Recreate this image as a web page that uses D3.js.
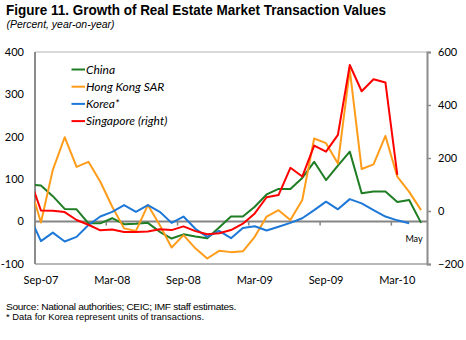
<!DOCTYPE html>
<html>
<head>
<meta charset="utf-8">
<script src="https://cdn.jsdelivr.net/npm/d3@7"></script>
<style>
  body { margin: 0; background: #fff; }
  svg text { fill: #000; }
</style>
</head>
<body>
<div id="chart"></div>
<script>
// months, Aug-07 sits just left of the axis and is clipped
const months = ["Aug-07", "Sep-07", "Oct-07", "Nov-07", "Dec-07",
  "Jan-08", "Feb-08", "Mar-08", "Apr-08", "May-08", "Jun-08", "Jul-08", "Aug-08",
  "Sep-08", "Oct-08", "Nov-08", "Dec-08", "Jan-09", "Feb-09", "Mar-09", "Apr-09",
  "May-09", "Jun-09", "Jul-09", "Aug-09", "Sep-09", "Oct-09", "Nov-09", "Dec-09",
  "Jan-10", "Feb-10", "Mar-10", "Apr-10", "May-10"]
const tickMonths = ["Sep-07", "Mar-08", "Sep-08", "Mar-09", "Sep-09", "Mar-10"]

// left axis (percent)
const china = [88, 85, 60, 30, 29, -4, -4, 8, -6, -5, -3, -24, -40, -30, -35, -39,
  -14, 12, 12, 35, 64, 77, 77, 103, 141, 98, 132, 165, 67, 71, 71, 46, 51, -3]
const hongKong = [92, -2, 122, 199, 129, 141, 94, 35, -16, -22, 39, -8, -61, -32, -63, -87,
  -69, -72, -70, -36, 12, 27, 4, 51, 196, 185, 137, 358, 124, 135, 202, 106, 70, 27]
const korea = [15, -46, -26, -47, -36, -8, 12, 23, 39, 23, 39, 23, -3, 12, -17, -36,
  -22, -39, -15, -11, -21, -12, -3, 8, 27, 47, 29, 53, 43, 27, 12, 3, -4, null]
// right axis
const singapore = [130, 2, 1, -4, -34, -52, -73, -70, -79, -79, -77, -69, -72, -58, -76, -88,
  -84, -72, -48, -9, 52, 60, 163, 130, 247, 224, 287, 551, 452, 497, 485, 136, null, null]

const leftTicks = [400, 300, 200, 100, 0, -100]
const rightTicks = [600, 400, 200, 0, -200]

const W = 466, H = 340
const plot = { left: 35, right: 427, top: 52, bottom: 264 }
const step = (plot.right - plot.left) / (months.length - 1)

const svg = d3.select("#chart").append("svg")
  .attr("width", W)
  .attr("height", H)

// title block
svg.append("text")
  .attr("x", 6).attr("y", 15)
  .attr("textLength", 380).attr("lengthAdjust", "spacingAndGlyphs")
  .style("font", "bold 15px 'Liberation Sans', Arial, sans-serif")
  .text("Figure 11. Growth of Real Estate Market Transaction Values")
svg.append("text")
  .attr("x", 6.5).attr("y", 28)
  .attr("textLength", 108).attr("lengthAdjust", "spacingAndGlyphs")
  .style("font", "italic 10.5px 'Liberation Sans', Arial, sans-serif")
  .text("(Percent, year-on-year)")

// scales
const x = d3.scaleBand()
  .domain(months)
  .range([plot.left - step, plot.right])
const cx = m => x(m) + x.bandwidth() / 2
const yL = d3.scaleLinear().domain([-100, 400]).range([plot.bottom, plot.top])
const yR = d3.scaleLinear().domain([-200, 600]).range([plot.bottom, plot.top])

const tickFont = "11px Lato, 'Open Sans', sans-serif"

// frame
svg.append("line")
  .attr("x1", plot.left).attr("x2", plot.right)
  .attr("y1", plot.top).attr("y2", plot.top)
  .attr("stroke", "#b4b4b4").attr("stroke-width", 1)
svg.append("line")
  .attr("x1", plot.left).attr("x2", plot.right)
  .attr("y1", plot.bottom).attr("y2", plot.bottom)
  .attr("stroke", "#a0a0a0").attr("stroke-width", 1.5)
svg.append("line")
  .attr("x1", plot.left).attr("x2", plot.left)
  .attr("y1", plot.top).attr("y2", plot.bottom)
  .attr("stroke", "#8c8c8c").attr("stroke-width", 2)

// right axis with outer ticks
const rAxis = svg.append("g")
  .attr("transform", "translate(" + plot.right + ",0)")
  .call(d3.axisRight(yR).tickValues(rightTicks).tickSize(4).tickPadding(7))
rAxis.select(".domain").attr("stroke", "#8c8c8c").attr("stroke-width", 2)
rAxis.selectAll(".tick line").attr("stroke", "#8c8c8c").attr("stroke-width", 1.5)
rAxis.selectAll("text").style("font", tickFont).attr("fill", "#000")

// left labels, no ticks
svg.append("g").selectAll("text")
  .data(leftTicks)
  .join("text")
  .attr("x", 24)
  .attr("y", d => yL(d))
  .attr("dy", "0.35em")
  .attr("text-anchor", "end")
  .style("font", tickFont)
  .text(d => d)

// zero line with half-year ticks between categories
svg.append("line")
  .attr("x1", plot.left).attr("x2", plot.right)
  .attr("y1", yL(0)).attr("y2", yL(0))
  .attr("stroke", "#858585").attr("stroke-width", 2)
svg.append("g").selectAll("line")
  .data(tickMonths.slice(1))
  .join("line")
  .attr("x1", d => x(d)).attr("x2", d => x(d))
  .attr("y1", yL(0)).attr("y2", yL(0) + 4)
  .attr("stroke", "#858585").attr("stroke-width", 1.5)

// month labels under the frame
svg.append("g").selectAll("text")
  .data(tickMonths)
  .join("text")
  .attr("x", d => cx(d))
  .attr("y", 284)
  .attr("text-anchor", "middle")
  .style("font", tickFont)
  .text(d => d)

svg.append("text")
  .attr("x", 414).attr("y", 242)
  .attr("text-anchor", "middle")
  .style("font", "9px Lato, 'Open Sans', sans-serif")
  .text("May")

// series
svg.append("clipPath").attr("id", "plot-clip")
  .append("rect")
  .attr("x", plot.left).attr("y", plot.top)
  .attr("width", plot.right - plot.left).attr("height", plot.bottom - plot.top)

const series = [
  { name: "China", values: china, y: yL, color: "#1f7d23" },
  { name: "Hong Kong SAR", values: hongKong, y: yL, color: "#ff9c1a" },
  { name: "Korea*", values: korea, y: yL, color: "#1e78d8" },
  { name: "Singapore (right)", values: singapore, y: yR, color: "#ff0000" }
]

const lines = svg.append("g").attr("clip-path", "url(#plot-clip)")
series.forEach(s => {
  const line = d3.line()
    .defined(d => d != null)
    .x((d, i) => cx(months[i]))
    .y(d => s.y(d))
  lines.append("path")
    .datum(s.values)
    .attr("d", line)
    .attr("fill", "none")
    .attr("stroke", s.color)
    .attr("stroke-width", 2)
    .attr("stroke-linejoin", "round")
})

// legend
const legend = svg.append("g").selectAll("g")
  .data(series)
  .join("g")
  .attr("transform", (d, i) => "translate(71.5," + (69.5 + i * 17.2) + ")")
legend.append("line")
  .attr("x1", 0).attr("x2", 13.5)
  .attr("stroke", d => d.color).attr("stroke-width", 2)
legend.append("text")
  .attr("x", 14.5).attr("dy", "0.35em")
  .style("font", "italic 12px Lato, 'Open Sans', sans-serif")
  .text(d => d.name)

// notes
svg.append("text")
  .attr("x", 6).attr("y", 309.5)
  .attr("textLength", 230).attr("lengthAdjust", "spacingAndGlyphs")
  .style("font", "9.5px 'Liberation Sans', Arial, sans-serif")
  .style("letter-spacing", "-0.3px")
  .text("Source: National authorities; CEIC; IMF staff estimates.")
svg.append("text")
  .attr("x", 6).attr("y", 319.5)
  .attr("textLength", 198).attr("lengthAdjust", "spacingAndGlyphs")
  .style("font", "9.5px 'Liberation Sans', Arial, sans-serif")
  .text("* Data for Korea represent units of transactions.")
</script>
</body>
</html>
